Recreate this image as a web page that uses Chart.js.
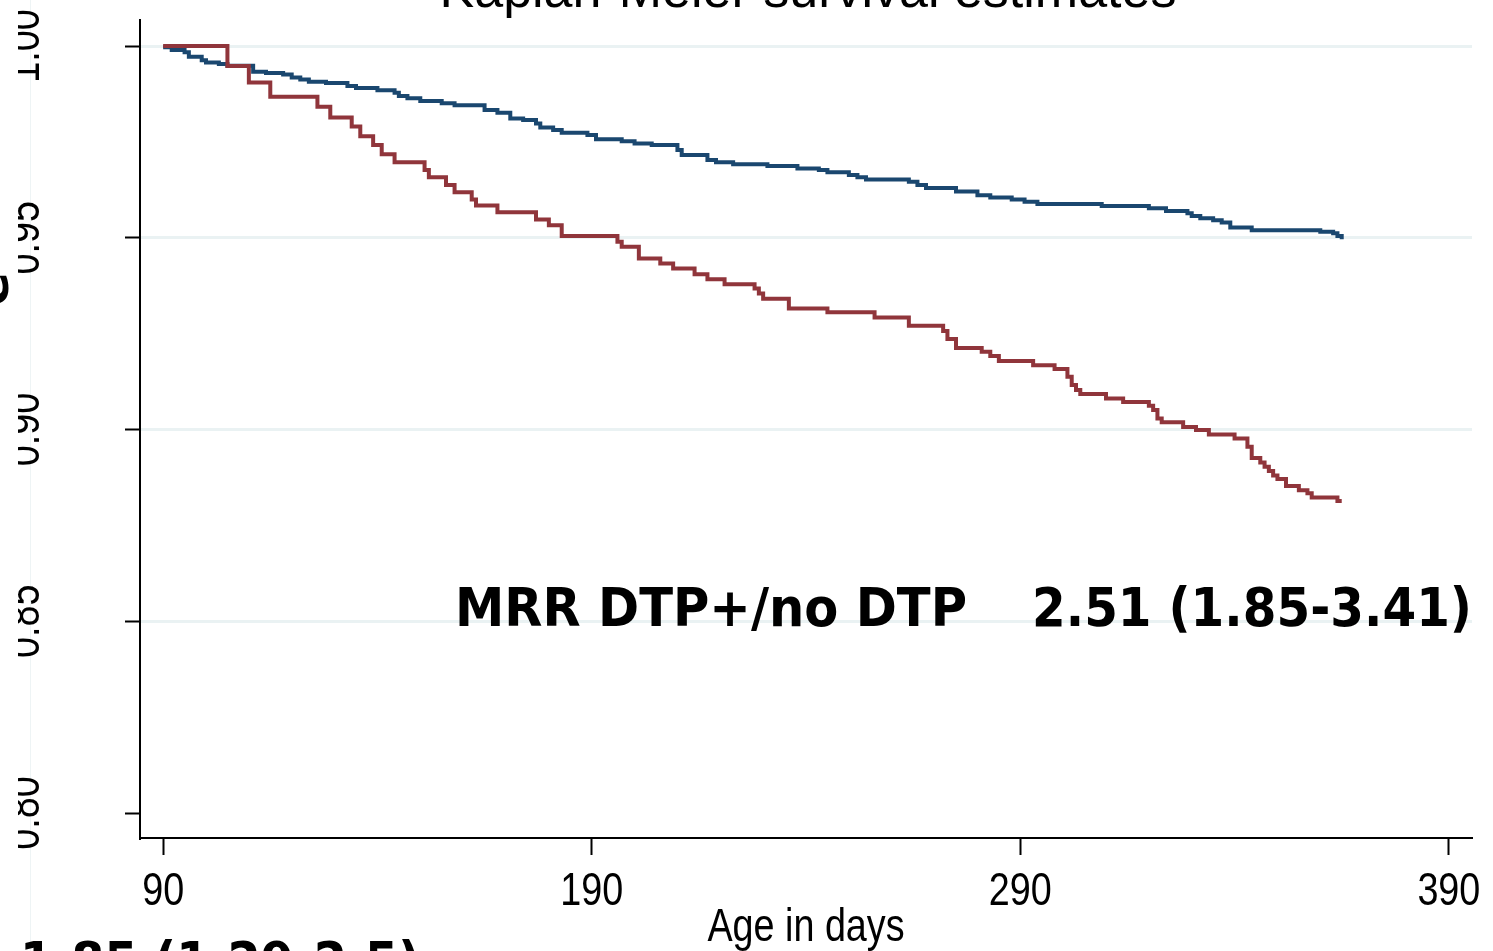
<!DOCTYPE html>
<html>
<head>
<meta charset="utf-8">
<title>Kaplan-Meier survival estimates</title>
<script src="https://cdn.jsdelivr.net/npm/chart.js@4.4.1/dist/chart.umd.min.js"></script>
<style>
  html, body { margin: 0; padding: 0; background: #fff; overflow: hidden; }
  #km { display: block; }
</style>
</head>
<body>
<canvas id="km" width="1493" height="951"></canvas>
<script>
const xTicks = [90, 190, 290, 390]
const yTicks = [0.80, 0.85, 0.90, 0.95, 1.00]

// no DTP group
const blueDays = [90, 92, 95, 96, 99, 100, 103, 105, 111, 114, 118, 120, 122, 124, 128, 133, 135, 140, 144, 145,
  147, 150, 155, 158, 165, 168, 171, 174, 177, 178, 181, 183, 189, 191, 197, 200, 204, 210, 211, 217,
  219, 223, 231, 238, 243, 245, 250, 252, 254, 264, 266, 268, 275, 280, 283, 288, 291, 294, 309, 320,
  324, 329, 330, 332, 335, 337, 339, 344, 360, 363, 364, 365]
const blueSurv = [0.9997, 0.9990, 0.9984, 0.9972, 0.9963, 0.9957, 0.9953, 0.9949, 0.9933, 0.9930, 0.9926, 0.9918, 0.9913, 0.9907, 0.9904, 0.9896, 0.9891, 0.9885, 0.9878, 0.9870,
  0.9864, 0.9857, 0.9851, 0.9846, 0.9833, 0.9826, 0.9811, 0.9807, 0.9798, 0.9788, 0.9781, 0.9774, 0.9768, 0.9757, 0.9752, 0.9746, 0.9742, 0.9729, 0.9716, 0.9703,
  0.9697, 0.9692, 0.9687, 0.9681, 0.9677, 0.9671, 0.9664, 0.9658, 0.9652, 0.9646, 0.9638, 0.9630, 0.9621, 0.9611, 0.9605, 0.9600, 0.9594, 0.9588, 0.9583, 0.9577,
  0.9570, 0.9564, 0.9557, 0.9551, 0.9546, 0.9540, 0.9527, 0.9520, 0.9516, 0.9512, 0.9505, 0.9496]

// DTP+ group
const redDays = [90, 105, 110, 115, 126, 129, 134, 136, 139, 141, 144, 151, 152, 156, 158, 162, 163, 168, 177, 180,
  183, 196, 197, 201, 206, 209, 214, 217, 221, 228, 229, 230, 236, 245, 256, 264, 272, 273, 275, 281,
  283, 285, 293, 298, 301, 302, 303, 304, 310, 314, 320, 321, 322, 323, 328, 331, 334, 340, 343, 344,
  346, 347, 348, 349, 350, 352, 355, 357, 358, 364, 365]
const redSurv = [1.0000, 0.9948, 0.9905, 0.9868, 0.9842, 0.9814, 0.9790, 0.9765, 0.9742, 0.9718, 0.9697, 0.9677, 0.9658, 0.9638, 0.9619, 0.9600, 0.9584, 0.9567, 0.9548, 0.9533,
  0.9505, 0.9490, 0.9477, 0.9446, 0.9433, 0.9420, 0.9405, 0.9392, 0.9379, 0.9368, 0.9355, 0.9341, 0.9316, 0.9306, 0.9292, 0.9271, 0.9257, 0.9236, 0.9213, 0.9203,
  0.9192, 0.9179, 0.9168, 0.9158, 0.9138, 0.9116, 0.9103, 0.9093, 0.9081, 0.9072, 0.9062, 0.9051, 0.9029, 0.9019, 0.9007, 0.8999, 0.8987, 0.8977, 0.8955, 0.8926,
  0.8914, 0.8903, 0.8892, 0.8880, 0.8871, 0.8853, 0.8842, 0.8834, 0.8823, 0.8814, 0.8814]

const mrrName = 'MRR DTP+/no DTP'
const mrrValue = '2.51 (1.85-3.41)'
const otherMrr = '1.85 (1.29-2.5)'

const axisFont = '46px "Liberation Sans", Arial, sans-serif'
const narrow = 0.82   // Stata's axis text is a condensed Arial

const toPoints = (days, surv) => days.map((d, i) => ({ x: d, y: surv[i] }))

// squeeze bold text into a given span
function fitText(ctx, text, x, y, width) {
  const w = ctx.measureText(text).width
  ctx.save()
  ctx.translate(x, y)
  ctx.scale(width / w, 1)
  ctx.fillText(text, 0, 0)
  ctx.restore()
}

// condensed text centred on x
function narrowText(ctx, text, x, y) {
  ctx.save()
  ctx.translate(x, y)
  ctx.scale(narrow, 1)
  ctx.textAlign = 'center'
  ctx.fillText(text, 0, 0)
  ctx.restore()
}

const extras = {
  id: 'extras',
  beforeDraw(chart) {
    const ctx = chart.ctx
    ctx.save()
    ctx.fillStyle = '#fff'
    ctx.fillRect(0, 0, chart.width, chart.height)
    ctx.fillStyle = '#eef4f5'
    ctx.fillRect(30, 0, 1, chart.height)
    ctx.restore()
  },
  afterDraw(chart) {
    const ctx = chart.ctx
    const xs = chart.scales.x
    const ys = chart.scales.y
    ctx.save()
    ctx.fillStyle = '#000'
    ctx.textBaseline = 'alphabetic'

    // title, mostly above the top edge
    ctx.font = '52px "Liberation Sans", Arial, sans-serif'
    ctx.textAlign = 'center'
    ctx.fillText('Kaplan-Meier survival estimates', 808, 7)

    // x tick labels and axis title
    ctx.font = axisFont
    xTicks.forEach(v => narrowText(ctx, String(v), xs.getPixelForValue(v), 905))
    narrowText(ctx, 'Age in days', (xs.left + xs.right) / 2, 941)

    // vertical y labels
    ctx.save()
    ctx.beginPath()
    ctx.rect(18, 0, 200, chart.height)
    ctx.clip()
    yTicks.forEach(v => {
      ctx.save()
      ctx.translate(39, ys.getPixelForValue(v))
      ctx.rotate(-Math.PI / 2)
      narrowText(ctx, v.toFixed(2), 0, 0)
      ctx.restore()
    })
    ctx.restore()

    ctx.font = 'bold 50px "DejaVu Sans", sans-serif'
    ctx.save()
    ctx.translate(8, 289)
    ctx.rotate(-Math.PI / 2)
    ctx.textAlign = 'center'
    ctx.fillText('e', 0, 0)
    ctx.restore()

    ctx.font = 'bold 53px "DejaVu Sans", sans-serif'
    ctx.textAlign = 'left'
    fitText(ctx, mrrName, 455, 626, 512)
    fitText(ctx, mrrValue, 1032, 626, 440)
    fitText(ctx, otherMrr, 20, 980, 400)
    ctx.restore()
  }
}

new Chart(document.getElementById('km'), {
  type: 'line',
  data: {
    datasets: [
      { label: 'DTP+', data: toPoints(redDays, redSurv), borderColor: '#90353b', borderWidth: 4,
        stepped: true, pointRadius: 0, fill: false, order: 1 },
      { label: 'no DTP', data: toPoints(blueDays, blueSurv), borderColor: '#1a476f', borderWidth: 4,
        stepped: true, pointRadius: 0, fill: false, order: 2 }
    ]
  },
  options: {
    responsive: false,
    animation: false,
    devicePixelRatio: 1,
    layout: { padding: { top: 20, right: 21, left: 0, bottom: 0 } },
    plugins: { legend: { display: false }, tooltip: { enabled: false } },
    scales: {
      x: {
        type: 'linear', min: 84.6, max: 395.4,
        afterBuildTicks: s => { s.ticks = xTicks.map(v => ({ value: v })) },
        afterFit: s => { s.height = 113; s.paddingLeft = 0; s.paddingRight = 0 },
        grid: { drawOnChartArea: false, tickLength: 17, tickColor: '#000', tickWidth: 2 },
        border: { color: '#000', width: 2 },
        ticks: { display: false }
      },
      y: {
        min: 0.7935, max: 1.0068,
        afterBuildTicks: s => { s.ticks = yTicks.map(v => ({ value: v })) },
        afterFit: s => { s.width = 140; s.paddingTop = 0; s.paddingBottom = 0 },
        grid: { color: c => (c.tick && c.tick.value < 0.81 ? 'rgba(0,0,0,0)' : '#eaf2f3'),
          lineWidth: 3, tickLength: 15, tickColor: '#000', tickWidth: 2 },
        border: { color: '#000', width: 2 },
        ticks: { display: false }
      }
    }
  },
  plugins: [extras]
})
</script>
</body>
</html>
